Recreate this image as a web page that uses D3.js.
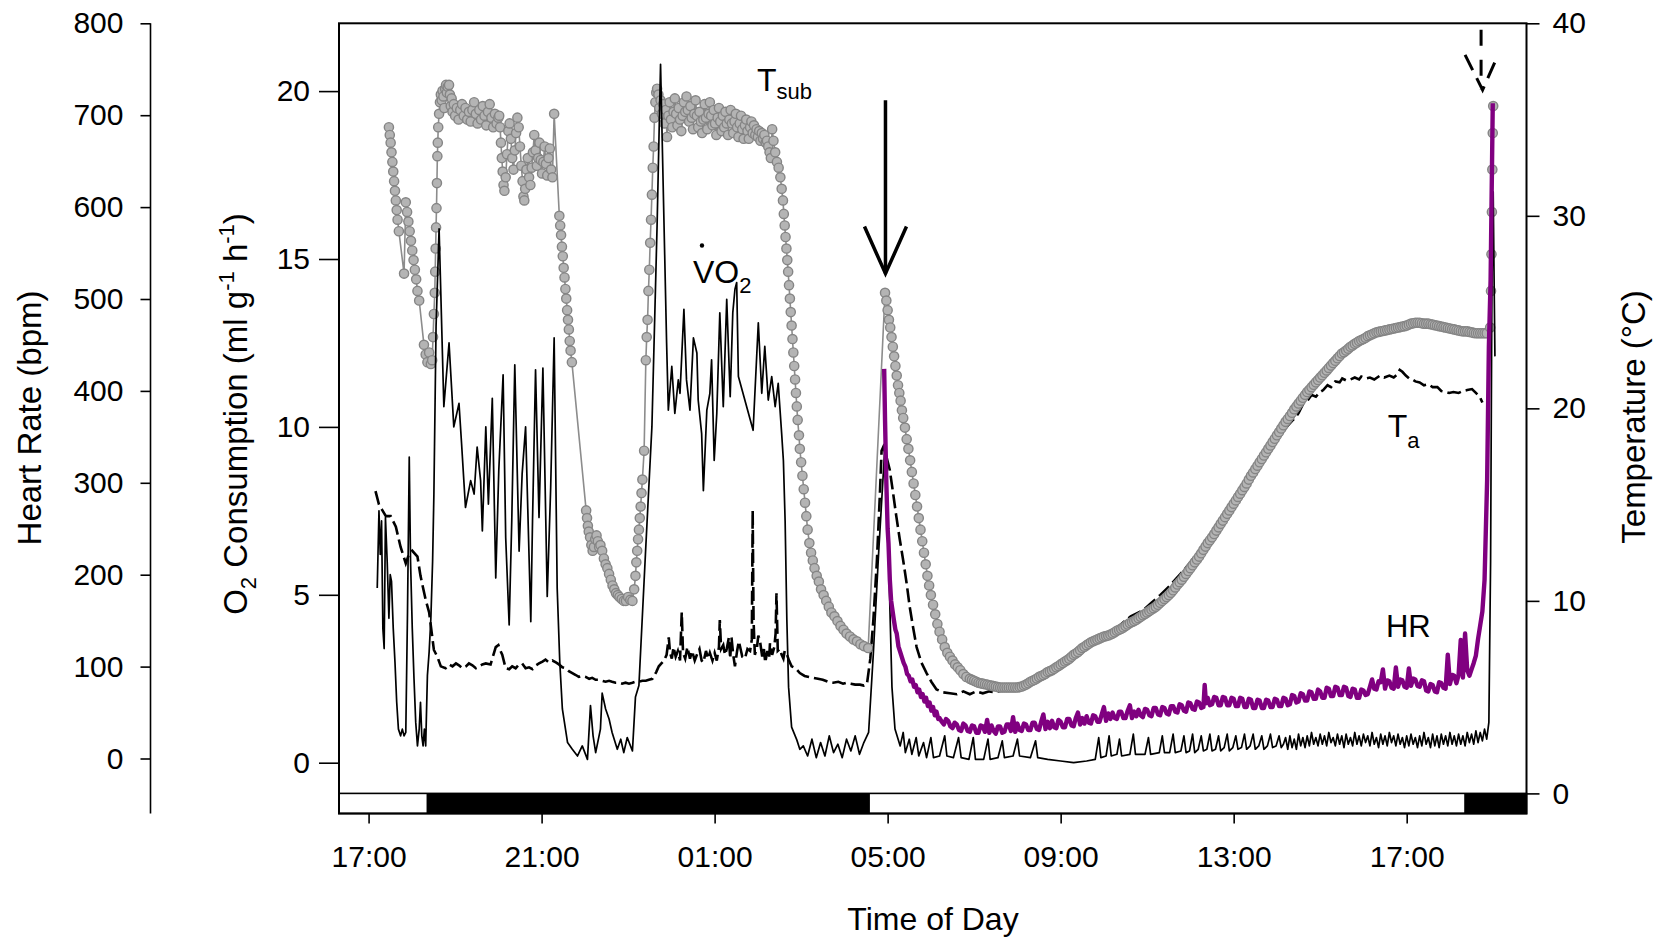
<!DOCTYPE html>
<html>
<head>
<meta charset="utf-8">
<script src="https://cdn.jsdelivr.net/npm/d3@7"></script>
<style>
  body { margin: 0; background: #fff; }
  svg { display: block; }
</style>
</head>
<body>
<svg id="svg"></svg>
<script>
// time is hours after 17:00 on the first day
const timeTicks = [0, 4, 8, 12, 16, 20, 24];
const timeLabels = ["17:00", "21:00", "01:00", "05:00", "09:00", "13:00", "17:00"];
const o2Ticks = [0, 5, 10, 15, 20];
const hrTicks = [0, 100, 200, 300, 400, 500, 600, 700, 800];
const tempTicks = [0, 10, 20, 30, 40];
const darkPeriods = [[1.34, 11.59], [25.33, 26.77]];

// substrate temperature (deg C)
const tsub = [
  [0.47,34.6],[0.49,34.2],[0.51,33.8],[0.53,33.3],[0.55,32.8],[0.57,32.3],[0.59,31.8],[0.61,31.3],[0.63,30.8],[0.65,30.3],[0.67,29.8],[0.70,29.2],
  [0.82,27.0],[0.86,30.7],[0.89,30.2],[0.92,29.7],[0.95,29.2],[0.98,28.7],[1.01,28.2],[1.04,27.7],[1.07,27.2],[1.10,26.7],[1.13,26.1],[1.17,25.6],
  [1.28,23.3],[1.32,22.8],[1.36,22.4],[1.40,22.9],[1.44,22.3],[1.47,22.5],
  [1.49,23.7],[1.51,24.9],[1.53,26.0],[1.54,27.1],[1.55,28.3],[1.56,29.4],[1.57,30.4],[1.58,31.7],[1.59,33.1],[1.60,33.8],[1.61,34.6],
  [1.63,35.3],[1.65,35.9],[1.67,36.3],[1.69,36.0],[1.71,36.5],[1.73,36.2],[1.75,35.6],[1.77,36.6],[1.79,36.8],[1.81,36.4],[1.83,36.7],[1.86,36.8],[1.88,36.3],[1.90,35.7],[1.92,36.1],[1.94,35.4],[1.97,35.8],
  [2.00,35.2],[2.04,35.6],[2.08,35.0],[2.12,35.5],[2.16,35.8],[2.20,35.2],[2.24,35.6],[2.28,35.0],[2.32,35.4],[2.36,34.9],[2.40,35.5],[2.44,35.9],[2.48,35.3],[2.52,34.8],[2.56,35.5],[2.60,35.0],[2.64,35.7],[2.68,35.2],[2.72,34.7],[2.76,35.4],[2.80,35.8],[2.84,35.1],[2.88,34.6],[2.92,35.3],[2.96,34.8],[3.00,35.1],
  [3.02,35.2],[3.04,34.6],[3.06,33.8],[3.08,33.0],[3.10,32.3],[3.12,31.6],[3.14,31.3],[3.17,32.0],[3.20,33.2],[3.23,34.4],[3.26,34.8],[3.29,34.0],[3.32,33.0],[3.35,32.4],[3.38,33.4],[3.41,34.3],[3.44,35.1],[3.47,34.6],[3.50,33.6],[3.53,32.6],[3.56,31.8],[3.58,31.0],[3.60,30.8],[3.62,31.4],[3.65,32.4],[3.68,33.0],[3.71,32.0],[3.74,31.6],[3.77,32.5],[3.80,33.3],[3.83,34.2],[3.86,33.4],[3.89,32.6],[3.92,33.0],[3.95,33.8],[3.98,32.9],[4.01,32.2],[4.04,32.8],[4.07,33.6],[4.10,32.7],[4.13,32.1],[4.16,33.0],[4.19,33.5],[4.22,32.4],[4.25,32.0],
  [4.29,35.3],
  [4.41,30.0],[4.43,29.5],[4.45,29.0],[4.47,28.4],[4.49,27.9],[4.51,27.3],[4.53,26.8],[4.55,26.2],[4.57,25.7],[4.59,25.1],[4.61,24.6],[4.63,24.1],[4.65,23.5],[4.67,23.0],[4.70,22.4],
  [5.03,14.7],[5.05,14.3],[5.07,13.9],[5.09,13.6],[5.12,13.3],[5.15,12.9],[5.18,12.6],[5.21,12.8],[5.24,13.2],[5.27,13.4],[5.30,13.1],[5.33,12.8],[5.36,12.9],[5.40,12.6],[5.44,12.2],[5.48,11.9],
  [5.52,11.7],[5.56,11.4],[5.60,11.1],[5.64,10.8],[5.68,10.6],[5.72,10.4],[5.76,10.3],[5.80,10.2],[5.85,10.1],[5.90,10.0],[5.95,10.0],[6.00,10.2],[6.05,10.05],[6.10,10.0],
  [6.14,10.6],[6.17,11.3],[6.19,12.0],[6.21,12.6],[6.23,13.2],[6.25,13.7],[6.27,14.3],[6.29,14.9],[6.31,15.6],[6.33,16.3],[6.37,17.8],
  [6.41,22.5],[6.43,23.7],[6.45,24.6],[6.47,26.1],[6.49,27.2],[6.51,28.6],[6.53,29.8],[6.55,31.1],[6.57,32.5],[6.59,33.6],[6.61,35.1],[6.63,35.9],[6.65,36.4],
  [6.67,36.6],[6.70,36.3],[6.72,35.6],[6.75,36.0],[6.78,35.3],[6.81,35.8],[6.84,34.8],[6.87,35.5],[6.90,34.1],[6.93,35.2],[6.96,35.9],[6.99,35.0],[7.02,34.6],[7.05,35.4],[7.08,36.1],[7.11,35.3],[7.14,34.7],[7.17,35.6],[7.20,35.0],[7.23,34.4],[7.26,35.2],[7.29,35.9],[7.32,35.4],[7.35,36.2],[7.38,35.5],[7.41,34.9],[7.44,35.7],[7.47,35.1],[7.50,34.5],[7.53,35.3],[7.56,36.0],[7.59,35.2],[7.62,34.6],[7.65,35.4],[7.68,34.9],[7.71,34.3],[7.74,35.0],[7.77,35.8],[7.80,35.1],[7.83,34.5],[7.86,35.3],[7.89,35.9],[7.92,35.2],[7.95,34.7],[7.98,35.5],[8.01,34.8],[8.04,34.2],[8.07,35.1],[8.10,35.6],[8.13,34.9],[8.16,34.4],[8.19,35.2],[8.22,34.6],[8.25,35.4],[8.28,34.8],[8.31,34.2],[8.34,35.0],[8.37,35.5],[8.40,34.8],[8.43,34.3],[8.46,34.9],[8.49,35.3],[8.52,34.6],[8.55,34.1],[8.58,34.8],[8.61,35.2],[8.64,34.5],[8.67,34.0],[8.70,34.7],[8.73,35.0],[8.76,34.4],[8.79,34.0],[8.82,34.6],[8.85,34.9],[8.88,34.3],[8.91,34.7],[8.94,34.2],[8.97,34.5],[9.00,34.1],[9.03,34.4],[9.06,33.9],[9.09,34.3],[9.12,34.0],[9.15,34.2],[9.18,33.8],[9.21,33.9],[9.24,33.6],[9.27,33.3],[9.30,33.0],
  [9.33,34.5],[9.36,33.9],[9.40,33.3],[9.44,32.8],[9.48,32.5],[9.52,32.0],[9.55,31.4],[9.58,30.8],[9.60,30.1],[9.62,29.5],[9.64,28.9],[9.66,28.3],[9.68,27.7],[9.70,27.1],[9.72,26.4],[9.74,25.7],[9.76,25.0],[9.78,24.3],[9.80,23.6],[9.82,22.9],[9.84,22.2],[9.86,21.5],[9.88,20.8],[9.90,20.1],[9.92,19.4],[9.95,18.6],[9.97,17.9],[10.00,17.2],[10.03,16.5],[10.06,15.8],[10.09,15.1],[10.12,14.4],[10.15,13.7],[10.19,13.0],[10.23,12.5],[10.27,12.1],[10.31,11.7],[10.36,11.3],[10.41,11.0],[10.46,10.6],[10.52,10.3],[10.58,10.0],[10.64,9.7],[10.70,9.4],[10.77,9.2],[10.84,8.95],[10.91,8.7],[10.98,8.5],[11.05,8.3],[11.13,8.15],[11.21,8.0],[11.29,7.9],[11.37,7.75],[11.45,7.65],[11.55,7.55],
  [11.94,26.0],[11.97,25.6],[12.00,25.1],[12.03,24.6],[12.06,24.2],[12.09,23.7],[12.12,23.2],[12.15,22.7],[12.18,22.2],[12.21,21.7],[12.24,21.2],[12.27,20.8],[12.30,20.4],[12.33,19.9],[12.36,19.5],[12.40,19.0],[12.44,18.4],[12.48,17.9],[12.52,17.3],[12.56,16.7],[12.60,16.1],[12.64,15.5],[12.68,14.9],[12.72,14.3],[12.76,13.7],[12.80,13.1],[12.84,12.5],[12.88,11.9],[12.92,11.3],[12.96,10.8],[13.00,10.3],[13.05,9.8],[13.10,9.3],[13.15,8.8],[13.20,8.4],[13.26,8.0],[13.32,7.6],[13.38,7.3],[13.44,7.1],[13.50,6.9],[13.56,6.7],[13.62,6.55],[13.68,6.4],[13.75,6.2],[13.82,6.05],[13.90,5.95],[13.95,5.9],
  [14.0,5.85],[14.05,5.8],[14.1,5.75],[14.15,5.72],[14.2,5.7],[14.25,5.67],[14.3,5.65],[14.35,5.62],[14.4,5.6],[14.45,5.57],[14.5,5.55],[14.55,5.52],[14.6,5.5],[14.65,5.5],[14.7,5.5],[14.75,5.5],[14.8,5.5],[14.85,5.5],[14.9,5.5],[14.95,5.5],
  [15.0,5.5],[15.05,5.52],[15.1,5.55],[15.15,5.6],[15.2,5.65],[15.25,5.72],[15.3,5.8],[15.35,5.85],[15.4,5.9],[15.45,5.97],[15.5,6.05],[15.55,6.1],[15.6,6.15],[15.65,6.22],[15.7,6.3],[15.75,6.35],[15.8,6.4],[15.85,6.47],[15.9,6.55],[15.95,6.62],
  [16.0,6.7],[16.05,6.77],[16.1,6.85],[16.15,6.92],[16.2,7.0],[16.25,7.1],[16.3,7.2],[16.35,7.27],[16.4,7.35],[16.45,7.45],[16.5,7.55],[16.55,7.62],[16.6,7.7],[16.65,7.77],[16.7,7.85],[16.75,7.9],[16.8,7.95],[16.85,8.0],[16.9,8.05],[16.95,8.1],
  [17.0,8.15],[17.05,8.17],[17.1,8.2],[17.15,8.25],[17.2,8.3],[17.25,8.37],[17.3,8.45],[17.35,8.5],[17.4,8.55],[17.45,8.62],[17.5,8.7],[17.55,8.77],[17.6,8.85],[17.65,8.9],[17.7,8.95],[17.75,9.02],[17.8,9.1],[17.85,9.17],[17.9,9.25],[17.95,9.32],
  [18.0,9.4],[18.05,9.47],[18.1,9.55],[18.15,9.62],[18.2,9.7],[18.25,9.8],[18.3,9.9],[18.35,10.0],[18.4,10.1],[18.45,10.2],[18.5,10.3],[18.55,10.42],[18.6,10.55],[18.65,10.7],[18.7,10.85],[18.75,10.97],[18.8,11.1],[18.85,11.25],[18.9,11.4],[18.95,11.55],
  [19.0,11.7],[19.05,11.85],[19.1,12.0],[19.15,12.15],[19.2,12.3],[19.25,12.47],[19.3,12.65],[19.35,12.82],[19.4,13.0],[19.45,13.15],[19.5,13.3],[19.55,13.47],[19.6,13.65],[19.65,13.82],[19.7,14.0],[19.75,14.17],[19.8,14.35],[19.85,14.52],[19.9,14.7],[19.95,14.87],
  [20.0,15.05],[20.05,15.22],[20.1,15.4],[20.15,15.57],[20.2,15.75],[20.25,15.92],[20.3,16.1],[20.35,16.3],[20.4,16.5],[20.45,16.67],[20.5,16.85],[20.55,17.02],[20.6,17.2],[20.65,17.37],[20.7,17.55],[20.75,17.72],[20.8,17.9],[20.85,18.07],[20.9,18.25],[20.95,18.42],
  [21.0,18.6],[21.05,18.77],[21.1,18.95],[21.15,19.12],[21.2,19.3],[21.25,19.45],[21.3,19.6],[21.35,19.77],[21.4,19.95],[21.45,20.1],[21.5,20.25],[21.55,20.4],[21.6,20.55],[21.65,20.7],[21.7,20.85],[21.75,20.97],[21.8,21.1],[21.85,21.22],[21.9,21.35],[21.95,21.47],
  [22.0,21.6],[22.05,21.72],[22.1,21.85],[22.15,21.97],[22.2,22.1],[22.25,22.22],[22.3,22.35],[22.35,22.47],[22.4,22.6],[22.45,22.72],[22.5,22.85],[22.55,22.92],[22.6,23.0],[22.65,23.1],[22.7,23.2],[22.75,23.27],[22.8,23.35],[22.85,23.42],[22.9,23.5],[22.95,23.55],
  [23.0,23.6],[23.05,23.67],[23.1,23.75],[23.15,23.8],[23.2,23.85],[23.25,23.9],[23.3,23.95],[23.35,23.97],[23.4,24.0],[23.45,24.02],[23.5,24.05],[23.55,24.07],[23.6,24.1],[23.65,24.12],[23.7,24.15],[23.75,24.17],[23.8,24.2],[23.85,24.22],[23.9,24.25],[23.95,24.27],
  [24.0,24.3],[24.05,24.35],[24.1,24.4],[24.15,24.42],[24.2,24.45],[24.25,24.45],[24.3,24.45],[24.35,24.42],[24.4,24.4],[24.45,24.4],[24.5,24.4],[24.55,24.37],[24.6,24.35],[24.65,24.32],[24.7,24.3],[24.75,24.27],[24.8,24.25],[24.85,24.22],[24.9,24.2],[24.95,24.17],
  [25.0,24.15],[25.05,24.12],[25.1,24.1],[25.15,24.07],[25.2,24.05],[25.25,24.02],[25.3,24.0],[25.35,24.0],[25.4,24.0],[25.45,23.97],[25.5,23.95],[25.55,23.92],[25.6,23.9],[25.65,23.9],[25.7,23.9],[25.75,23.9],[25.8,23.9],[25.85,23.9],
  [25.93,24.2],[25.95,26.1],[25.96,28.0],[25.97,30.2],[25.98,32.4],[25.99,34.3],[26.0,35.7]
];

// ambient temperature (deg C)
const ta = [
  [0.16,15.7],[0.24,15.0],[0.32,14.7],[0.40,14.4],[0.51,14.4],[0.63,13.85],[0.74,12.8],[0.86,11.95],[0.93,12.4],[1.01,12.6],[1.13,12.3],[1.20,11.3],[1.32,10.05],[1.40,9.4],[1.51,7.45],[1.59,7.1],[1.67,6.6],[1.78,6.5],[1.86,6.7],[1.94,6.6],
  [2.02,6.75],[2.09,6.65],[2.17,6.5],[2.25,6.6],[2.32,6.75],[2.40,6.65],[2.48,6.5],[2.55,6.6],[2.63,6.7],[2.71,6.75],[2.82,6.7],[2.90,7.3],[2.94,7.6],[3.00,7.7],[3.05,7.4],[3.09,7.2],[3.17,6.5],[3.25,6.45],[3.32,6.6],[3.40,6.5],
  [3.48,6.7],[3.55,6.75],[3.63,6.5],[3.71,6.55],[3.79,6.45],[3.87,6.65],[3.94,6.75],[4.02,6.85],[4.09,6.95],[4.17,6.8],[4.25,6.9],[4.33,6.8],[4.40,6.7],[4.48,6.55],[4.56,6.5],[4.63,6.35],[4.71,6.25],[4.79,6.15],[4.86,6.05],[4.94,6.1],
  [5.02,6.05],[5.10,5.95],[5.17,6.0],[5.25,5.9],[5.33,5.9],[5.40,5.85],[5.48,5.8],[5.56,5.85],[5.63,5.8],[5.71,5.75],[5.79,5.75],[5.86,5.7],[5.94,5.75],[6.02,5.7],[6.10,5.75],[6.17,5.8],[6.25,5.8],[6.33,5.85],[6.41,5.85],[6.48,5.9],
  [6.56,5.95],[6.65,6.3],[6.71,6.6],[6.77,6.75],[6.83,6.9],[6.89,7.2],[6.94,8.1],[6.97,7.3],[7.01,7.0],[7.05,7.6],[7.10,7.1],[7.15,7.4],[7.20,6.9],[7.24,9.4],[7.27,7.3],[7.32,7.0],[7.37,7.6],[7.43,7.0],[7.48,7.4],[7.54,6.9],
  [7.59,7.2],[7.65,7.5],[7.70,6.9],[7.74,6.8],[7.80,7.4],[7.85,7.0],[7.89,7.3],[7.95,6.9],[8.00,7.3],[8.05,6.9],[8.10,7.6],[8.12,9.0],[8.15,7.5],[8.20,7.7],[8.24,7.2],[8.28,7.5],[8.33,8.1],[8.36,7.0],[8.39,8.1],[8.43,7.2],
  [8.47,6.6],[8.52,7.4],[8.56,7.9],[8.59,7.6],[8.64,7.1],[8.70,7.0],[8.76,7.5],[8.82,7.4],[8.86,8.0],[8.88,14.7],[8.90,9.0],[8.93,7.2],[8.98,7.6],[9.01,8.2],[9.05,7.9],[9.10,7.1],[9.14,7.5],[9.17,6.8],[9.22,7.4],[9.26,7.0],
  [9.28,7.8],[9.33,7.2],[9.38,7.6],[9.41,8.3],[9.43,10.4],[9.46,7.4],[9.51,7.5],[9.55,7.2],[9.59,7.0],[9.62,7.4],[9.66,7.3],[9.72,6.9],[9.78,6.6],[9.87,6.5],[9.97,6.25],[10.08,6.1],[10.18,6.05],[10.28,6.0],[10.39,5.95],[10.50,5.9],
  [10.62,5.8],[10.74,5.75],[10.86,5.8],[10.97,5.7],[11.05,5.75],[11.15,5.7],[11.25,5.65],[11.36,5.65],[11.45,5.6],[11.52,5.65],[11.60,7.0],[11.67,9.0],[11.75,12.0],[11.82,15.5],[11.86,17.8],[11.90,18.0],[11.96,17.6],[12.05,16.8],[12.12,15.7],[12.20,14.4],
  [12.28,13.2],[12.36,12.1],[12.44,10.9],[12.51,9.7],[12.59,8.6],[12.67,7.6],[12.78,6.8],[12.90,6.25],[13.01,5.8],[13.13,5.4],[13.28,5.25],[13.44,5.2],[13.60,5.15],[13.75,5.3],[13.90,5.15],[14.05,5.3],[14.2,5.2],[14.35,5.3],[14.5,5.25],[14.7,5.4],
  [15.0,5.5],[15.5,5.95],[16.0,6.75],[16.5,7.6],[17.0,8.2],[17.3,8.6],[17.62,9.2],[17.9,9.5],[18.1,9.9],[18.3,10.3],[18.53,10.8],[18.75,11.35],[19.0,12.0],[19.2,12.6],[19.41,13.2],[19.63,13.9],[19.85,14.6],[20.07,15.35],[20.29,16.1],[20.51,16.85],
  [20.73,17.5],[20.95,18.2],[21.1,18.7],[21.25,19.1],[21.35,19.35],[21.42,19.5],[21.5,19.75],[21.62,20.3],[21.72,20.45],[21.8,20.7],[21.9,20.6],[22.0,20.85],[22.07,20.95],[22.17,21.2],[22.25,21.1],[22.35,21.4],[22.45,21.35],[22.51,21.55],[22.6,21.45],[22.7,21.5],
  [22.8,21.6],[22.9,21.5],[22.95,21.65],[23.05,21.55],[23.15,21.6],[23.25,21.5],[23.38,21.7],[23.48,21.6],[23.6,21.7],[23.7,21.6],[23.78,21.75],[23.84,22.0],[23.9,21.9],[23.98,21.7],[24.06,21.55],[24.13,21.5],[24.2,21.4],[24.3,21.35],[24.4,21.2],[24.5,21.25],
  [24.6,21.1],[24.71,21.1],[24.8,20.9],[24.9,20.85],[24.98,20.8],[25.08,20.85],[25.2,20.8],[25.3,20.9],[25.4,20.95],[25.51,21.0],[25.6,20.8],[25.69,20.6],[25.75,20.3]
];

// oxygen consumption (ml g-1 h-1)
const vo2 = [
  [0.20,5.2],[0.24,7.5],[0.27,6.2],[0.30,7.2],[0.33,4.0],[0.36,3.4],[0.39,7.3],[0.43,6.0],[0.47,4.3],[0.50,5.6],[0.53,5.4],[0.57,4.0],[0.61,3.0],[0.65,1.8],[0.69,1.0],[0.74,0.8],[0.78,1.0],[0.82,0.8],[0.86,0.9],[0.90,4.5],
  [0.94,9.1],[0.97,6.0],[1.01,4.0],[1.05,2.5],[1.09,1.2],[1.13,0.5],[1.17,1.0],[1.20,1.8],[1.23,0.8],[1.26,0.5],[1.29,1.0],[1.32,0.5],[1.36,2.6],[1.40,3.3],[1.44,4.3],[1.48,6.0],[1.51,8.0],[1.56,13.0],[1.63,15.9],[1.74,10.6],
  [1.86,12.5],[1.97,10.0],[2.09,10.7],[2.15,9.5],[2.24,7.6],[2.36,8.4],[2.44,8.0],[2.51,9.4],[2.59,8.4],[2.63,6.9],[2.71,10.0],[2.77,7.7],[2.86,10.85],[2.94,5.5],[3.01,8.7],[3.11,11.55],[3.17,6.7],[3.25,4.1],[3.31,7.2],[3.38,11.85],
  [3.48,6.3],[3.55,8.6],[3.63,10.0],[3.75,4.2],[3.79,7.2],[3.86,11.7],[3.94,7.3],[4.03,11.75],[4.13,4.95],[4.21,8.2],[4.29,12.65],[4.36,5.2],[4.42,3.0],[4.48,1.6],[4.60,0.6],[4.71,0.4],[4.83,0.2],[4.94,0.5],[5.06,0.1],[5.13,1.7],
  [5.19,0.8],[5.25,0.3],[5.36,1.0],[5.40,2.07],[5.48,1.6],[5.56,1.3],[5.63,0.9],[5.75,0.4],[5.83,0.7],[5.90,0.3],[5.98,0.75],[6.10,0.35],[6.17,1.96],[6.25,2.3],[6.40,6.2],[6.55,10.0],[6.67,16.0],[6.75,20.8],[6.89,12.5],[6.93,10.5],
  [7.01,11.8],[7.08,10.4],[7.16,11.4],[7.20,11.0],[7.29,13.5],[7.35,11.4],[7.43,10.5],[7.51,12.65],[7.59,12.2],[7.62,10.8],[7.70,9.8],[7.74,8.1],[7.82,10.5],[7.89,11.0],[7.93,12.0],[7.99,9.0],[8.05,10.4],[8.12,13.4],[8.20,10.6],[8.28,13.8],
  [8.36,10.9],[8.42,13.4],[8.47,14.1],[8.51,14.3],[8.55,11.5],[8.89,9.9],[9.01,13.1],[9.09,11.0],[9.16,12.4],[9.24,10.8],[9.32,11.5],[9.40,10.6],[9.47,11.3],[9.55,9.8],[9.59,9.0],[9.63,7.2],[9.67,4.25],[9.71,2.25],[9.78,1.06],[9.90,0.68],
  [9.97,0.4],[10.05,0.5],[10.15,0.2],[10.25,0.7],[10.35,0.15],[10.45,0.6],[10.55,0.2],[10.65,0.8],[10.75,0.3],[10.85,0.55],[10.95,0.15],[11.05,0.7],[11.15,0.35],[11.25,0.8],[11.35,0.25],[11.45,0.6],[11.56,0.9],[11.67,3.26],[11.79,6.2],[11.94,9.5],
  [12.02,6.2],[12.10,2.25],[12.17,1.0],[12.29,0.5],[12.36,0.9],[12.41,0.3],[12.50,0.7],[12.56,0.25],[12.66,0.75],[12.72,0.2],[12.83,0.6],[12.90,0.15],[13.0,0.75],[13.06,0.15],[13.2,0.2],[13.32,0.8],[13.37,0.2],[13.52,0.15],[13.64,0.75],[13.7,0.15],
  [13.88,0.1],[13.98,0.75],[14.03,0.1],[14.22,0.1],[14.32,0.7],[14.37,0.1],[14.55,0.15],[14.65,0.65],[14.7,0.15],[14.9,0.2],[15.0,0.7],[15.05,0.2],[15.3,0.15],[15.42,0.65],[15.47,0.15],[15.7,0.1],[16.0,0.05],[16.3,0.0],[16.6,0.05],[16.8,0.1],
  [16.88,0.75],[16.93,0.15],[17.05,0.2],[17.12,0.8],[17.17,0.2],[17.3,0.25],[17.36,0.7],[17.41,0.2],[17.6,0.25],[17.68,0.85],[17.73,0.25],[17.95,0.25],[18.03,0.75],[18.08,0.25],[18.28,0.3],[18.35,0.8],[18.4,0.3],[18.52,0.3],[18.6,0.85],[18.65,0.3],
  [18.78,0.35],[18.85,0.8],[18.9,0.3],[18.98,0.35],[19.05,0.85],[19.1,0.3],[19.18,0.4],[19.25,0.8],[19.3,0.35],[19.38,0.4],[19.45,0.85],[19.5,0.35],[19.58,0.4],[19.65,0.8],[19.7,0.35],[19.78,0.45],[19.85,0.85],[19.9,0.35],[19.98,0.45],[20.05,0.8],
  [20.1,0.4],[20.18,0.45],[20.25,0.85],[20.3,0.4],[20.38,0.5],[20.45,0.85],[20.5,0.4],[20.58,0.5],[20.65,0.8],[20.7,0.4],[20.78,0.5],[20.85,0.85],[20.9,0.45],[20.98,0.5],[21.05,0.8],[21.1,0.45],[21.15,0.55],[21.2,0.75],[21.25,0.4],[21.3,0.8],
  [21.35,0.45],[21.4,0.7],[21.45,0.4],[21.5,0.85],[21.55,0.5],[21.6,0.75],[21.65,0.45],[21.7,0.8],[21.75,0.5],[21.8,0.9],[21.85,0.55],[21.9,0.75],[21.95,0.5],[22.0,0.85],[22.05,0.55],[22.1,0.8],[22.15,0.5],[22.2,0.9],[22.25,0.6],[22.3,0.75],
  [22.35,0.5],[22.4,0.85],[22.45,0.55],[22.5,0.8],[22.55,0.45],[22.6,0.85],[22.65,0.55],[22.7,0.75],[22.75,0.5],[22.8,0.9],[22.85,0.55],[22.9,0.8],[22.95,0.5],[23.0,0.85],[23.05,0.6],[23.1,0.8],[23.15,0.5],[23.2,0.9],[23.25,0.55],[23.3,0.75],
  [23.35,0.45],[23.4,0.85],[23.45,0.55],[23.5,0.8],[23.55,0.5],[23.6,0.9],[23.65,0.6],[23.7,0.8],[23.75,0.5],[23.8,0.85],[23.85,0.55],[23.9,0.75],[23.95,0.45],[24.0,0.8],[24.05,0.5],[24.1,0.85],[24.15,0.55],[24.2,0.75],[24.25,0.45],[24.3,0.8],
  [24.35,0.5],[24.4,0.9],[24.45,0.55],[24.5,0.75],[24.55,0.45],[24.6,0.85],[24.65,0.5],[24.7,0.8],[24.75,0.45],[24.8,0.85],[24.85,0.55],[24.9,0.8],[24.95,0.5],[25.0,0.9],[25.05,0.55],[25.1,0.8],[25.15,0.5],[25.2,0.85],[25.25,0.55],[25.3,0.8],
  [25.35,0.5],[25.4,0.9],[25.45,0.6],[25.5,0.85],[25.55,0.55],[25.6,0.95],[25.65,0.6],[25.7,0.9],[25.75,0.65],[25.8,1.0],[25.85,0.7],[25.9,1.2],[25.94,6.0],[25.97,14.0],[26.0,17.0],[26.02,14.5],[26.04,12.1]
];

// heart rate (bpm)
const hr = [
  [11.92,424],[11.94,368],[11.97,300],[12.00,250],[12.02,234],[12.05,195],[12.08,172],[12.10,165],[12.14,152],[12.18,140],[12.21,136],[12.25,122],[12.29,116],[12.33,110],[12.37,104],[12.41,100],[12.45,92],[12.49,90],[12.53,84],[12.57,86],
  [12.61,78],[12.65,80],[12.69,72],[12.73,75],[12.77,67],[12.81,70],[12.85,62],[12.89,66],[12.93,57],[12.97,61],[13.01,52],[13.05,56],[13.09,47],[13.13,51],[13.17,43],
  [13.2,44],[13.25,40],[13.3,37],[13.35,43],[13.4,41],[13.45,35],[13.5,33],[13.55,39],[13.6,37],[13.65,31],[13.7,30],[13.75,38],[13.8,36],[13.85,30],[13.9,29],[13.95,36],[14.0,35],[14.05,28],[14.1,28],[14.15,36],
  [14.2,35],[14.25,29],[14.3,42],[14.35,28],[14.4,36],[14.45,30],[14.5,27],[14.55,35],[14.6,35],[14.65,28],[14.7,29],[14.75,37],[14.8,37],[14.85,30],[14.9,45],[14.95,29],[15.0,38],[15.05,31],[15.1,30],[15.15,38],
  [15.2,37],[15.25,31],[15.3,31],[15.35,39],[15.4,39],[15.45,32],[15.5,31],[15.55,40],[15.6,48],[15.65,32],[15.7,40],[15.75,33],[15.8,41],[15.85,34],[15.9,33],[15.95,42],[16.0,40],[16.05,34],[16.1,34],[16.15,43],
  [16.2,43],[16.25,36],[16.3,35],[16.35,44],[16.4,50],[16.45,37],[16.5,44],[16.55,38],[16.6,46],[16.65,39],[16.7,38],[16.75,47],[16.8,46],[16.85,40],[16.9,40],[16.95,48],[17.0,56],[17.05,41],[17.1,49],[17.15,43],
  [17.2,50],[17.25,44],[17.3,43],[17.35,51],[17.4,51],[17.45,44],[17.5,44],[17.55,52],[17.6,58],[17.65,44],[17.7,51],[17.75,46],[17.8,53],[17.85,47],[17.9,45],[17.95,54],[18.0,53],[18.05,47],[18.1,46],[18.15,55],
  [18.2,55],[18.25,48],[18.3,47],[18.35,56],[18.4,55],[18.45,49],[18.5,48],[18.55,57],[18.6,57],[18.65,51],[18.7,50],[18.75,59],[18.8,58],[18.85,52],[18.9,51],[18.95,61],[19.0,60],[19.05,54],[19.1,53],[19.15,62],
  [19.2,61],[19.25,55],[19.3,56],[19.33,80],[19.36,60],[19.4,66],[19.45,58],[19.5,59],[19.55,67],[19.6,66],[19.65,58],[19.7,58],[19.75,67],[19.8,66],[19.85,58],[19.9,58],[19.95,66],[20.0,65],[20.05,57],[20.1,57],
  [20.15,66],[20.2,65],[20.25,56],[20.3,56],[20.35,65],[20.4,64],[20.45,55],[20.5,55],[20.55,64],[20.6,63],[20.65,55],[20.7,55],[20.75,64],[20.8,63],[20.85,56],[20.9,56],[20.95,65],[21.0,64],[21.05,57],[21.1,57],
  [21.15,66],[21.2,65],[21.25,58],[21.3,59],[21.35,69],[21.4,68],[21.45,61],[21.5,62],[21.55,71],[21.6,70],[21.65,63],[21.7,63],[21.75,73],[21.8,72],[21.85,65],[21.9,65],[21.95,75],[22.0,73],[22.05,66],[22.1,66],
  [22.15,77],[22.2,76],[22.25,68],[22.3,68],[22.35,78],[22.4,77],[22.45,69],[22.5,69],[22.55,78],[22.6,77],[22.65,68],[22.7,67],[22.75,76],[22.8,75],[22.85,66],[22.9,66],[22.95,75],[23.0,74],[23.05,69],[23.1,70],
  [23.15,78],[23.2,86],[23.25,76],[23.3,75],[23.35,84],[23.4,83],[23.45,97],[23.5,76],[23.55,85],[23.6,84],[23.65,77],[23.7,76],[23.75,99],[23.8,78],[23.85,86],[23.9,85],[23.95,78],[24.0,77],[24.05,98],[24.1,79],
  [24.15,87],[24.2,86],[24.25,79],[24.3,78],[24.35,85],[24.4,84],[24.45,74],[24.5,73],[24.55,81],[24.6,80],[24.65,73],[24.7,72],[24.75,83],[24.8,82],[24.85,77],[24.9,76],[24.95,113],[25.0,81],[25.05,91],[25.1,90],
  [25.15,82],[25.2,91],[25.25,129],[25.3,88],[25.35,136],[25.4,96],[25.45,90],[25.5,97],[25.55,104],[25.6,112],[25.65,130],[25.7,145],[25.75,160],[25.8,194],[25.86,303],[25.9,448],[25.94,521],[25.99,713]
];

const width = 1661;
const height = 940;
const plot = { left: 339, right: 1526.5, top: 23.3, bottom: 813.5 };
const hrAxisX = 150.5;
const font = "'Liberation Sans', Arial, Helvetica, sans-serif";

const svg = d3.select("#svg")
  .attr("width", width)
  .attr("height", height)
  .attr("viewBox", [0, 0, width, height])
  .attr("font-family", font);

const x = d3.scaleLinear([-0.684, 26.77], [plot.left, plot.right]);
const yT = d3.scaleLinear([0, 40], [793.4, plot.top]);
const yO2 = d3.scaleLinear([0, 20], [762.7, 91.1]);
const yHR = d3.scaleLinear([0, 800], [758.5, 23.3]);

// light / dark bar along the bottom of the plot
svg.append("rect")
  .attr("x", plot.left).attr("y", yT(0))
  .attr("width", plot.right - plot.left).attr("height", plot.bottom - yT(0))
  .attr("fill", "#fff").attr("stroke", "#000").attr("stroke-width", 1.6);

svg.append("g").selectAll("rect")
  .data(darkPeriods)
  .join("rect")
  .attr("x", d => x(d[0]))
  .attr("y", yT(0))
  .attr("width", d => x(d[1]) - x(d[0]))
  .attr("height", plot.bottom - yT(0))
  .attr("fill", "#000");

// series
const lineOf = (scale) => d3.line().x(d => x(d[0])).y(d => scale(d[1]));

svg.append("path")
  .datum(ta)
  .attr("fill", "none")
  .attr("stroke", "#000")
  .attr("stroke-width", 2.6)
  .attr("stroke-dasharray", "14,5")
  .attr("d", lineOf(yT));

svg.append("path")
  .datum(tsub)
  .attr("fill", "none")
  .attr("stroke", "#8c8c8c")
  .attr("stroke-width", 1.6)
  .attr("d", lineOf(yT));

svg.append("g").selectAll("circle")
  .data(tsub)
  .join("circle")
  .attr("cx", d => x(d[0]))
  .attr("cy", d => yT(d[1]))
  .attr("r", 4.6)
  .attr("fill", "#b4b4b4")
  .attr("stroke", "#858585")
  .attr("stroke-width", 1.4);

svg.append("path")
  .datum(vo2)
  .attr("fill", "none")
  .attr("stroke", "#000")
  .attr("stroke-width", 1.7)
  .attr("stroke-linejoin", "round")
  .attr("d", lineOf(yO2));

svg.append("path")
  .datum(hr)
  .attr("fill", "none")
  .attr("stroke", "#800080")
  .attr("stroke-width", 4.4)
  .attr("stroke-linejoin", "round")
  .attr("d", lineOf(yHR));

// plot frame
svg.append("rect")
  .attr("x", plot.left).attr("y", plot.top)
  .attr("width", plot.right - plot.left).attr("height", plot.bottom - plot.top)
  .attr("fill", "none").attr("stroke", "#000").attr("stroke-width", 2);

function styleAxis(g) {
  g.select(".domain").remove();
  g.attr("font-size", 30).attr("font-family", font);
  g.selectAll(".tick line").attr("stroke", "#000").attr("stroke-width", 1.6);
  g.selectAll(".tick text").attr("fill", "#000");
}

svg.append("g")
  .attr("transform", `translate(0,${plot.bottom})`)
  .call(d3.axisBottom(x).tickValues(timeTicks).tickFormat((d, i) => timeLabels[i]).tickSize(10).tickPadding(22))
  .call(styleAxis);

svg.append("g")
  .attr("transform", `translate(${plot.left},0)`)
  .call(d3.axisLeft(yO2).tickValues(o2Ticks).tickSize(20).tickPadding(9))
  .call(styleAxis);

svg.append("g")
  .attr("transform", `translate(${plot.right},0)`)
  .call(d3.axisRight(yT).tickValues(tempTicks).tickSize(13).tickPadding(13))
  .call(styleAxis);

svg.append("g")
  .attr("transform", `translate(${hrAxisX},0)`)
  .call(d3.axisLeft(yHR).tickValues(hrTicks).tickSize(10).tickPadding(17))
  .call(styleAxis);

svg.append("line")
  .attr("x1", hrAxisX).attr("x2", hrAxisX)
  .attr("y1", yHR(800)).attr("y2", plot.bottom)
  .attr("stroke", "#000").attr("stroke-width", 1.6);

// axis titles
svg.append("text")
  .attr("x", 933).attr("y", 930)
  .attr("text-anchor", "middle").attr("font-size", 32)
  .text("Time of Day");

svg.append("text")
  .attr("transform", "translate(41,418) rotate(-90)")
  .attr("text-anchor", "middle").attr("font-size", 33)
  .text("Heart Rate (bpm)");

svg.append("text")
  .attr("transform", "translate(1645,417) rotate(-90)")
  .attr("text-anchor", "middle").attr("font-size", 33)
  .text("Temperature (°C)");

const o2Title = svg.append("text")
  .attr("transform", "translate(247,414) rotate(-90)")
  .attr("text-anchor", "middle").attr("font-size", 33);
o2Title.append("tspan").text("O");
o2Title.append("tspan").attr("font-size", 22).attr("dy", 9).text("2");
o2Title.append("tspan").attr("dy", -9).text(" Consumption (ml g");
o2Title.append("tspan").attr("font-size", 22).attr("dy", -13).text("-1");
o2Title.append("tspan").attr("dy", 13).text(" h");
o2Title.append("tspan").attr("font-size", 22).attr("dy", -13).text("-1");
o2Title.append("tspan").attr("dy", 13).text(")");

// series labels
const tsubLabel = svg.append("text").attr("x", x(8.98)).attr("y", yT(36.5)).attr("font-size", 32);
tsubLabel.append("tspan").text("T");
tsubLabel.append("tspan").attr("font-size", 22).attr("dy", 8).text("sub");

const vo2X = x(7.5), vo2Y = yO2(14.3);
const vo2Label = svg.append("text").attr("x", vo2X).attr("y", vo2Y).attr("font-size", 32);
vo2Label.append("tspan").text("VO");
vo2Label.append("tspan").attr("font-size", 22).attr("dy", 10).text("2");
svg.append("circle").attr("cx", vo2X + 9).attr("cy", vo2Y - 37).attr("r", 2.2).attr("fill", "#000");

const taLabel = svg.append("text").attr("x", x(23.56)).attr("y", yT(18.5)).attr("font-size", 32);
taLabel.append("tspan").text("T");
taLabel.append("tspan").attr("font-size", 22).attr("dy", 11).text("a");

svg.append("text").attr("x", x(23.52)).attr("y", yHR(132)).attr("font-size", 31).text("HR");

// arrows
const arrowX = x(11.95), arrowTip = yT(27.0);
svg.append("line")
  .attr("x1", arrowX).attr("x2", arrowX)
  .attr("y1", yT(36.0)).attr("y2", arrowTip)
  .attr("stroke", "#000").attr("stroke-width", 3.5);
svg.append("polyline")
  .attr("points", [[arrowX - 21, arrowTip - 47], [arrowX, arrowTip], [arrowX + 21, arrowTip - 47]].join(" "))
  .attr("fill", "none").attr("stroke", "#000").attr("stroke-width", 3.5);

const dashX = x(25.72), dashTip = yT(36.54);
svg.append("line")
  .attr("x1", dashX).attr("x2", dashX)
  .attr("y1", yT(39.66)).attr("y2", dashTip)
  .attr("stroke", "#000").attr("stroke-width", 3)
  .attr("stroke-dasharray", "16,14");
svg.append("polyline")
  .attr("points", [[dashX - 16, dashTip - 35], [dashX + 1.5, dashTip], [dashX + 17, dashTip - 35]].join(" "))
  .attr("fill", "none").attr("stroke", "#000").attr("stroke-width", 3)
  .attr("stroke-dasharray", "17,9");
</script>
</body>
</html>
